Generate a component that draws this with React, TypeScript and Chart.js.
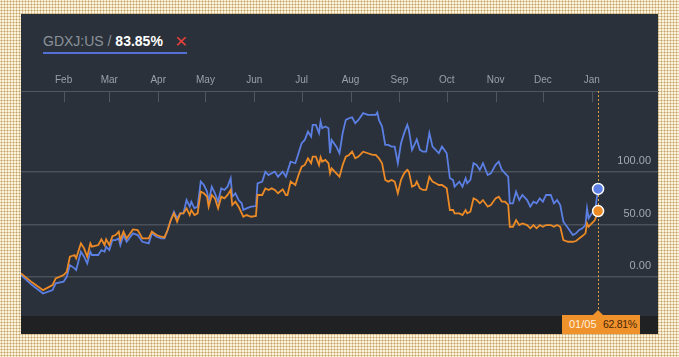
import React, { useEffect, useRef } from "react";
import { Chart, registerables } from "chart.js";

Chart.register(...registerables);

// Month tick labels (top axis) and their day offsets from the first day (Jan 5)
const monthLabels = ["Feb", "Mar", "Apr", "May", "Jun", "Jul", "Aug", "Sep", "Oct", "Nov", "Dec", "Jan"];
const monthStartDays = [27, 56, 87, 117, 148, 178, 209, 240, 270, 301, 331, 362];
const yTickValues = [0, 50, 100];
const markerDay = 366;

// Day offsets of the sampled points
const days = [
  0, 7, 14, 20, 22, 27, 29, 31, 34, 35, 38, 40, 42, 44, 45, 49, 51, 53, 54, 56,
  58, 60, 62, 63, 65, 67, 71, 74, 77, 81, 83, 86, 89, 91, 93, 94, 95, 97, 99, 101,
  103, 105, 107, 108, 110, 112, 114, 116, 118, 119, 121, 123, 125, 127, 129, 131, 133, 134, 136, 138,
  140, 141, 143, 146, 149, 150, 153, 155, 157, 159, 161, 163, 166, 168, 169, 171, 174, 176, 178, 180,
  182, 184, 185, 187, 189, 190, 191, 193, 195, 196, 197, 200, 202, 204, 206, 208, 210, 212, 214, 217,
  220, 223, 225, 226, 227, 229, 231, 233, 235, 237, 239, 241, 243, 245, 246, 248, 250, 251, 253, 255,
  257, 259, 261, 263, 265, 267, 270, 272, 274, 275, 278, 280, 282, 283, 285, 287, 289, 291, 293, 296,
  298, 301, 303, 305, 307, 309, 310, 312, 314, 316, 318, 321, 323, 325, 327, 329, 331, 333, 336, 338,
  340, 342, 344, 347, 350, 352, 354, 356, 358, 359, 360, 362, 364, 366,
];

// GDXJ:US cumulative % change (blue)
const gdxjSeries = [
  2, -7.6, -15.6, -12.4, -6, -4.4, 0.3, 11.4, 8.3, 6.7, 24.1, 19.4, 13, 24.1, 21, 21, 25.7, 24.1, 28.9, 25.7,
  35.2, 35.2, 36.8, 30.5, 40, 33.6, 41.6, 40, 33.6, 32.1, 41.6, 38.4, 36.8, 36.8, 44.8, 49.5, 54.3, 62.2, 55.9, 60.6,
  60.6, 73.3, 67, 71.7, 65.4, 67, 90.8, 87.6, 81.3, 71.7, 86, 79.7, 71.7, 84.4, 82.9, 86, 94, 76.5, 79.7, 73.3,
  70.2, 63.8, 65.4, 67, 67.6, 89.2, 90.8, 100.3, 97.1, 98.7, 100.3, 95.5, 100.3, 95.5, 100.3, 109.8, 108.3, 117.8, 127.3, 130.5,
  138.4, 133.6, 144.8, 144.8, 136.9, 147.9, 141.6, 143.2, 141.6, 117.8, 130.5, 124.1, 117.8, 136.9, 149.5, 151.1, 152, 146.4, 149.5, 155.9,
  154.3, 154.3, 154.3, 156.5, 149.5, 143.2, 125.7, 125.7, 124.1, 124.1, 108.3, 127.3, 136.9, 144.8, 140, 121, 127.3, 131, 121, 119.3,
  119.3, 136.9, 124.1, 121, 117.8, 124.1, 117.8, 94, 92.4, 86, 90.8, 86, 94, 89.2, 92.4, 108.3, 106.7, 101.9, 108.3, 97.1,
  98.7, 106.7, 109.8, 101.9, 98.7, 95.5, 70.2, 70.2, 81.2, 73.3, 78.1, 73.3, 67, 71.7, 70.2, 74.9, 71.7, 78.1, 78.1, 70.2,
  73.3, 68.6, 52.7, 46.4, 40, 41.6, 44.8, 46.4, 49.5, 65.4, 55.9, 60.6, 62.2, 83.85,
];

// Comparison series cumulative % change (orange)
const compareSeries = [
  3.5, -5, -12.4, -7.6, -1.3, 1.9, 5, 19.4, 21, 17.8, 32.1, 27.3, 19.4, 32.1, 28.9, 30.5, 35.9, 30.5, 35.9, 30.5,
  39, 40, 43.2, 35.2, 43.2, 36.8, 45.4, 44.8, 36.8, 36.8, 43.2, 40, 38.4, 37.8, 44.8, 49.5, 54.3, 60.6, 52.7, 60.6,
  60.6, 65.4, 59, 63.8, 59, 60.6, 81.3, 79.7, 76.5, 67, 78.1, 74.9, 65.4, 76.5, 74.9, 78.1, 82.9, 68.6, 71.7, 67,
  60.6, 57.4, 59, 57.4, 58.1, 78.1, 78.1, 84.4, 82.9, 84.4, 82.9, 79.7, 83.5, 78.1, 78.1, 90.8, 87.6, 97.1, 105, 106.7,
  113, 108.3, 114.6, 114.6, 106.7, 114, 109.8, 111.4, 108.3, 98.7, 103.5, 98.7, 95.5, 106.7, 114.6, 116.2, 119.3, 113, 114.6, 119.3,
  117.8, 116.2, 116.2, 114.6, 113, 108.3, 92.4, 90.8, 92.4, 90.8, 79.7, 92.4, 98.7, 102, 100.3, 86, 87.6, 90.8, 84.4, 82.9,
  82.9, 95.5, 90.8, 89.2, 87.6, 87.6, 84.4, 63.8, 63.8, 60.6, 60.6, 59, 63.8, 60.6, 62.2, 74.9, 73.3, 70.2, 73.3, 67,
  68.6, 74.9, 76.5, 71.7, 71.7, 68.6, 47.9, 47.9, 54.3, 49.5, 51.1, 49.5, 46.4, 49.5, 46.4, 49.5, 47.9, 49.5, 49.5, 47.9,
  49.5, 47.9, 35.2, 33.6, 33.6, 34.3, 36.8, 39, 41.6, 51.1, 47.9, 51.1, 54.3, 62.81,
];

const BLUE = "#5b7fe3";
const ORANGE = "#ec8a26";
const PANEL = "#2a313b";

export default function App() {
  const canvasRef = useRef<HTMLCanvasElement | null>(null);

  useEffect(() => {
    const canvas = canvasRef.current;
    if (!canvas) return;
    const last = days.length - 1;

    const overlay = {
      id: "overlay",
      beforeDatasetsDraw(chart: any) {
        const { ctx, chartArea } = chart;
        const xs = chart.scales.x;
        ctx.save();
        ctx.strokeStyle = "#50575f";
        ctx.lineWidth = 1;
        monthStartDays.forEach((d) => {
          const px = Math.round(xs.getPixelForValue(d)) + 0.5;
          ctx.beginPath();
          ctx.moveTo(px, chartArea.top);
          ctx.lineTo(px, chartArea.top + 11);
          ctx.stroke();
        });
        const mx = Math.round(xs.getPixelForValue(markerDay)) + 0.5;
        ctx.strokeStyle = "#d9a040";
        ctx.setLineDash([2, 2]);
        ctx.beginPath();
        ctx.moveTo(mx, chartArea.top);
        ctx.lineTo(mx, chartArea.bottom);
        ctx.stroke();
        ctx.restore();
      },
    };

    const chart = new Chart(canvas, {
      type: "line",
      data: {
        datasets: [
          {
            label: "Compare",
            data: days.map((d, i) => ({ x: d, y: compareSeries[i] })),
            borderColor: ORANGE,
            backgroundColor: ORANGE,
            borderWidth: 1.8,
            tension: 0,
            pointRadius: days.map((_, i) => (i === last ? 5.5 : 0)),
            pointBackgroundColor: ORANGE,
            pointBorderColor: "#ffffff",
            pointBorderWidth: 1.5,
          },
          {
            label: "GDXJ:US",
            data: days.map((d, i) => ({ x: d, y: gdxjSeries[i] })),
            borderColor: BLUE,
            backgroundColor: BLUE,
            borderWidth: 1.8,
            tension: 0,
            pointRadius: days.map((_, i) => (i === last ? 5.5 : 0)),
            pointBackgroundColor: BLUE,
            pointBorderColor: "#ffffff",
            pointBorderWidth: 1.5,
          },
        ],
      },
      options: {
        animation: false,
        responsive: false,
        maintainAspectRatio: false,
        layout: { padding: { left: 21, right: 21, top: 69, bottom: 41 } },
        plugins: { legend: { display: false }, tooltip: { enabled: false } },
        scales: {
          x: {
            type: "linear",
            position: "top",
            min: 0,
            max: 404,
            afterBuildTicks: (s: any) => {
              s.ticks = monthStartDays.map((v) => ({ value: v }));
            },
            ticks: {
              autoSkip: false,
              maxRotation: 0,
              padding: 5,
              color: "#9aa0a8",
              font: { family: "'Liberation Sans', Arial, sans-serif", size: 10 },
              callback: (v: any) => {
                const i = monthStartDays.indexOf(Number(v));
                return i >= 0 ? monthLabels[i] : "";
              },
            },
            grid: { display: false, drawTicks: false },
            border: { display: true, color: "#50575f", width: 1 },
          },
          y: {
            type: "linear",
            position: "right",
            min: -37,
            max: 177,
            afterFit: (s: any) => {
              s.width = 0;
            },
            afterBuildTicks: (s: any) => {
              s.ticks = yTickValues.map((v) => ({ value: v }));
            },
            ticks: {
              mirror: true,
              labelOffset: -11,
              padding: -7,
              color: "#a3a9b0",
              font: { family: "'Liberation Sans', Arial, sans-serif", size: 11 },
              callback: (v: any) => Number(v).toFixed(2),
            },
            grid: { color: "#4a5159", lineWidth: 1.5, drawTicks: false },
            border: { display: false },
          },
        },
      },
      plugins: [overlay],
    });
    return () => chart.destroy();
  }, []);

  return (
    <div
      style={{
        position: "fixed",
        left: 0,
        top: 0,
        width: 679,
        height: 357,
        backgroundColor: "#fbf3da",
        backgroundImage: "radial-gradient(circle, #c4a06a 0.9px, transparent 1.1px)",
        backgroundSize: "3px 3px",
        overflow: "hidden",
        fontFamily: "'Liberation Sans', Arial, sans-serif",
      }}
    >
      <div style={{ position: "absolute", left: 21, top: 14, width: 637, height: 320, background: PANEL }} />
      <div style={{ position: "absolute", left: 21, top: 316, width: 637, height: 18, background: "#202122" }} />
      <div
        style={{
          position: "absolute",
          left: 43,
          top: 34,
          height: 17,
          whiteSpace: "nowrap",
          fontSize: 14,
          lineHeight: "14px",
        }}
      >
        <span style={{ color: "#8c929a" }}>GDXJ:US / </span>
        <span style={{ color: "#ffffff", fontWeight: "bold" }}>83.85%</span>
      </div>
      <div
        style={{
          position: "absolute",
          left: 175,
          top: 30,
          color: "#e8403a",
          fontSize: 21,
          lineHeight: "21px",
        }}
      >
        ×
      </div>
      <div style={{ position: "absolute", left: 43, top: 52, width: 144, height: 2, background: "#5470d4" }} />
      <canvas ref={canvasRef} width={679} height={357} style={{ position: "absolute", left: 0, top: 0, width: 679, height: 357 }} />
      <div
        style={{
          position: "absolute",
          left: 593,
          top: 310,
          width: 0,
          height: 0,
          borderLeft: "5px solid transparent",
          borderRight: "5px solid transparent",
          borderBottom: "5px solid #f0922c",
        }}
      />
      <div
        style={{
          position: "absolute",
          left: 562,
          top: 315,
          width: 78,
          height: 19,
          background: "#f0922c",
          fontSize: 11,
          lineHeight: "19px",
          whiteSpace: "nowrap",
          fontFamily: "'Liberation Sans', Arial, sans-serif",
        }}
      >
        <span style={{ position: "absolute", left: 7, color: "#fff0dc" }}>01/05</span>
        <span style={{ position: "absolute", left: 41, color: "#4a2605", fontSize: 10.5, letterSpacing: -0.3 }}>62.81%</span>
      </div>
    </div>
  );
}
